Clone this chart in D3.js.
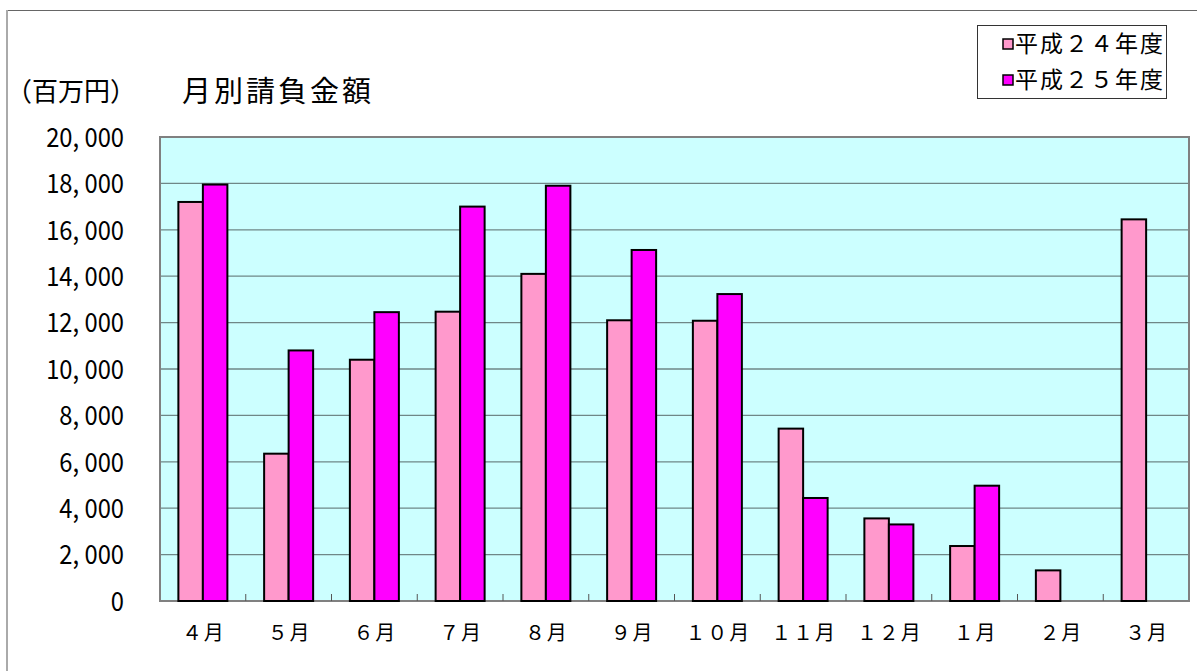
<!DOCTYPE html>
<html>
<head>
<meta charset="utf-8">
<script src="https://cdn.jsdelivr.net/npm/d3@7"></script>
<style>
  body { margin: 0; background: #fff; }
  text { font-family: "Noto Sans CJK JP", sans-serif; fill: #000; }
</style>
</head>
<body>
<div id="chart"></div>
<script>
var months = ['４月', '５月', '６月', '７月', '８月', '９月', '１０月', '１１月', '１２月', '１月', '２月', '３月'];
var seriesNames = ['平成２４年度', '平成２５年度'];
var h24 = [17200, 6350, 10400, 12470, 14100, 12100, 12080, 7430, 3560, 2370, 1320, 16450];
var h25 = [17950, 10800, 12450, 17000, 17900, 15130, 13230, 4440, 3300, 4970, null, null];
var yTicks = [0, 2000, 4000, 6000, 8000, 10000, 12000, 14000, 16000, 18000, 20000];

var pink = '#FF99CC';
var magenta = '#FF00FF';

var fullWidth = 1197;
var fullHeight = 671;
var plot = {left: 160, right: 1189, top: 137, bottom: 601};

var svg = d3.select('#chart').append('svg')
  .attr('width', fullWidth)
  .attr('height', fullHeight);

// outer chart frame (only top and left visible)
svg.append('line')
  .attr('x1', 7).attr('x2', fullWidth).attr('y1', 10.5).attr('y2', 10.5)
  .style('stroke', '#666').style('stroke-width', 1);
svg.append('line')
  .attr('x1', 7).attr('x2', 7).attr('y1', 10).attr('y2', fullHeight)
  .style('stroke', '#aaa').style('stroke-width', 2);

var xScale = d3.scaleBand()
  .domain(months)
  .range([plot.left, plot.right]);

var serScale = d3.scaleBand()
  .domain(seriesNames)
  .range([0, xScale.bandwidth()])
  .paddingInner(0)
  .paddingOuter(0.75);

var yScale = d3.scaleLinear()
  .domain([0, 20000])
  .range([plot.bottom, plot.top]);

// plot background
svg.append('rect')
  .attr('x', plot.left)
  .attr('y', plot.top)
  .attr('width', plot.right - plot.left)
  .attr('height', plot.bottom - plot.top)
  .style('fill', '#CCFFFF');

// grid lines
svg.append('g').selectAll('line').data(yTicks.slice(1, -1)).enter()
  .append('line')
    .attr('x1', plot.left).attr('x2', plot.right)
    .attr('y1', function(d) { return yScale(d); })
    .attr('y2', function(d) { return yScale(d); })
    .style('stroke', '#6f8787').style('stroke-width', 1.3);

// plot border
svg.append('rect')
  .attr('x', plot.left)
  .attr('y', plot.top)
  .attr('width', plot.right - plot.left)
  .attr('height', plot.bottom - plot.top)
  .style('fill', 'none')
  .style('stroke', '#808080')
  .style('stroke-width', 2);

// category tick marks on the x axis
var bounds = months.slice(1).map(function(m) { return xScale(m); });
svg.append('g').selectAll('line').data(bounds).enter()
  .append('line')
    .attr('x1', function(d) { return d; }).attr('x2', function(d) { return d; })
    .attr('y1', plot.bottom).attr('y2', plot.bottom - 7)
    .style('stroke', '#555').style('stroke-width', 1);

// bars
var barData = [];
months.forEach(function(m, i) {
  if (h24[i] != null) barData.push({month: m, series: seriesNames[0], value: h24[i], color: pink});
  if (h25[i] != null) barData.push({month: m, series: seriesNames[1], value: h25[i], color: magenta});
});

svg.append('g').selectAll('rect.bar').data(barData).enter()
  .append('rect')
    .classed('bar', true)
    .attr('x', function(d) { return xScale(d.month) + serScale(d.series); })
    .attr('width', serScale.bandwidth())
    .attr('y', function(d) { return yScale(d.value); })
    .attr('height', function(d) { return plot.bottom - yScale(d.value); })
    .style('fill', function(d) { return d.color; })
    .style('stroke', '#000')
    .style('stroke-width', 2);

// y labels (slightly condensed, like the original font)
svg.append('g').selectAll('text').data(yTicks).enter()
  .append('text')
    .attr('transform', function(d) { return 'translate(124,' + yScale(d) + ') scale(0.88,1)'; })
    .attr('dy', '0.36em')
    .style('text-anchor', 'end')
    .style('font-size', '27px')
    .text(function(d) { return d3.format(',')(d).replace(',', ', '); });

// x labels
svg.append('g').selectAll('text').data(months).enter()
  .append('text')
    .attr('x', function(d) { return xScale(d) + xScale.bandwidth() / 2 + 1; })
    .attr('y', 633)
    .attr('dy', '0.36em')
    .style('text-anchor', 'middle')
    .style('font-size', '20px')
    .style('letter-spacing', '2px')
    .text(function(d) { return d; });

// unit and title
svg.append('text')
  .attr('x', 6)
  .attr('y', 101)
  .style('font-size', '26px')
  .text('（百万円）');

svg.append('text')
  .attr('x', 182)
  .attr('y', 102)
  .style('font-size', '29px')
  .style('letter-spacing', '3px')
  .text('月別請負金額');

// legend
var legend = svg.append('g').attr('class', 'legend');
legend.append('rect')
  .attr('x', 977.5).attr('y', 25.5)
  .attr('width', 189).attr('height', 73)
  .style('fill', '#fff')
  .style('stroke', '#333')
  .style('stroke-width', 1);

var legColors = [pink, magenta];
seriesNames.forEach(function(s, i) {
  var cy = 44 + i * 36;
  legend.append('rect')
    .attr('x', 1003).attr('y', cy - 5)
    .attr('width', 10).attr('height', 10)
    .style('fill', legColors[i])
    .style('stroke', '#000')
    .style('stroke-width', 1.5);
  legend.append('text')
    .attr('x', 1015)
    .attr('y', cy)
    .attr('dy', '0.36em')
    .style('font-size', '23px')
    .style('letter-spacing', '2px')
    .text(s);
});
</script>
</body>
</html>
